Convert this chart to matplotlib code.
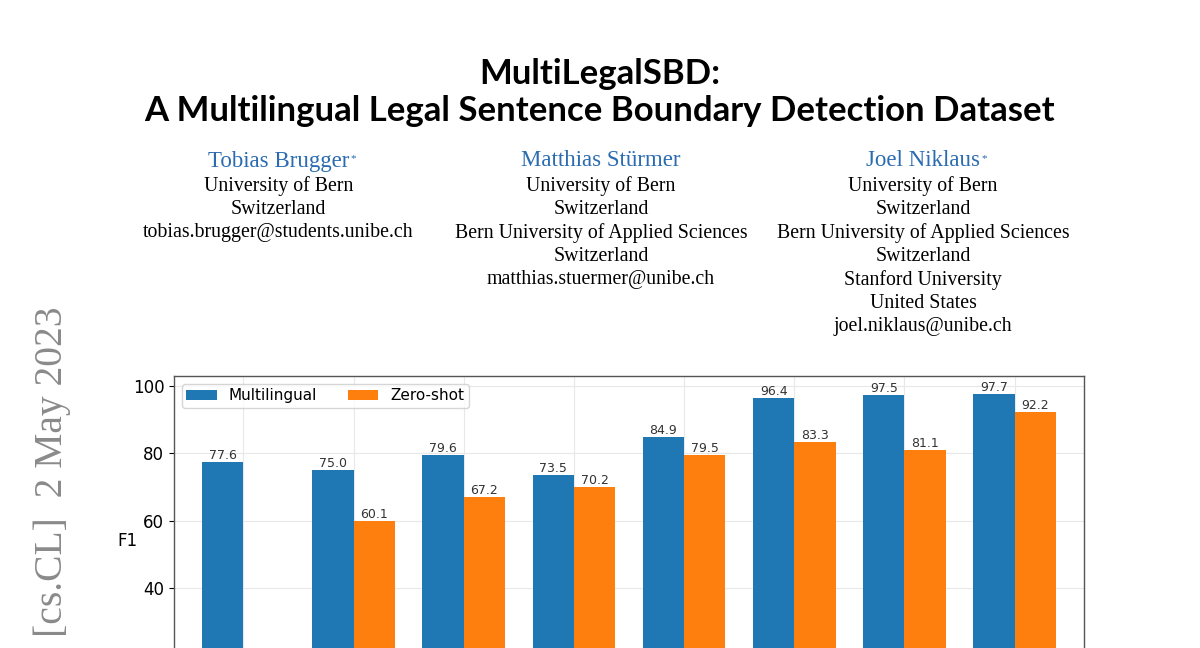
import matplotlib
matplotlib.use("Agg")
import matplotlib.pyplot as plt
import numpy as np

# ---- data ----
series_labels = ["Multilingual", "Zero-shot"]
multilingual = [77.6, 75.0, 79.6, 73.5, 84.9, 96.4, 97.5, 97.7]
zero_shot = [np.nan, 60.1, 67.2, 70.2, 79.5, 83.3, 81.1, 92.2]
y_ticks = [40, 60, 80, 100]

title_lines = ["MultiLegalSBD:", "A Multilingual Legal Sentence Boundary Detection Dataset"]
author_names = ["Tobias Brugger", "Matthias Stürmer", "Joel Niklaus"]
author_marks = ["*", "", "*"]
author_affils = [
    ["University of Bern", "Switzerland", "tobias.brugger@students.unibe.ch"],
    ["University of Bern", "Switzerland", "Bern University of Applied Sciences",
     "Switzerland", "matthias.stuermer@unibe.ch"],
    ["University of Bern", "Switzerland", "Bern University of Applied Sciences",
     "Switzerland", "Stanford University", "United States", "joel.niklaus@unibe.ch"],
]
side_stamp = "[cs.CL]  2 May 2023"

W, H = 1200, 648
fig = plt.figure(figsize=(W / 100, H / 100), dpi=100)
fig.patch.set_facecolor("white")


def fx(px):
    return px / W


def fy(py):
    return 1 - py / H


# ---- title ----
fig.text(fx(600), fy(74), title_lines[0], ha="center", va="center",
         family="Lato", weight="bold", fontsize=25, color="black")
fig.text(fx(600), fy(111), title_lines[1], ha="center", va="center",
         family="Lato", weight="bold", fontsize=25, color="black")

# ---- authors ----
col_x = [278.5, 601, 923]
name_y = 161
line_y0 = 186
line_step = 23.5
name_color = "#2b6cb0"
for cx, name, mark, affils in zip(col_x, author_names, author_marks, author_affils):
    t = fig.text(fx(cx), fy(name_y), name, ha="center", va="center",
                 family="Liberation Serif", fontsize=16.5, color=name_color)
    if mark:
        fig.canvas.draw()
        bb = t.get_window_extent()
        fig.text(fx(bb.x1 + 1), (bb.y1 - 4) / H, mark, ha="left", va="top",
                 family="Liberation Serif", fontsize=8, color=name_color)
    for i, line in enumerate(affils):
        fig.text(fx(cx), fy(line_y0 + i * line_step), line, ha="center", va="center",
                 family="Liberation Serif", fontsize=14.3, color="black")

# ---- side arXiv stamp ----
fig.text(fx(62), fy(637), side_stamp, rotation=90, rotation_mode="anchor",
         ha="left", va="baseline", family="Liberation Serif", fontsize=28.5,
         color="#8a8a8a")

# ---- chart ----
ax_left, ax_right = 174, 1084
ax_top, ax_bottom = 376, 723
ax = fig.add_axes([fx(ax_left), 1 - ax_bottom / H,
                   (ax_right - ax_left) / W, (ax_bottom - ax_top) / H])

x = np.arange(len(multilingual))
w = 0.375
b1 = ax.bar(x - w / 2, multilingual, w, color="#1f77b4", label=series_labels[0], zorder=2)
b2 = ax.bar(x + w / 2, zero_shot, w, color="#ff7f0e", label=series_labels[1], zorder=2)


def fmt(vals):
    return ["" if np.isnan(v) else f"{v:.1f}" for v in vals]


ax.bar_label(b1, labels=fmt(multilingual), padding=0, fontsize=9, color="#333333")
ax.bar_label(b2, labels=fmt(zero_shot), padding=0, fontsize=9, color="#333333")

ax.set_xlim(-0.63, 7.63)
ax.set_ylim(0, 103)
ax.set_yticks(y_ticks)
ax.set_xticks(x)
ax.tick_params(axis="x", labelbottom=False)
ax.tick_params(axis="y", labelsize=12)
ax.grid(True, color="#e8e8e8", lw=0.8, zorder=0)
ax.set_axisbelow(True)
for s in ax.spines.values():
    s.set_color("#555555")
    s.set_linewidth(1.0)

ax.set_ylabel("F1", rotation=0, fontsize=12, ha="center", va="center")
ax.yaxis.set_label_coords((127.5 - ax_left) / (ax_right - ax_left),
                          (ax_bottom - 540.7) / (ax_bottom - ax_top))

ax.legend(loc="upper left", ncol=2, fontsize=11, frameon=True,
          borderaxespad=0.5, borderpad=0.3, columnspacing=2.0, handlelength=2.0)

fig.savefig("out.png", dpi=100, facecolor="white")
